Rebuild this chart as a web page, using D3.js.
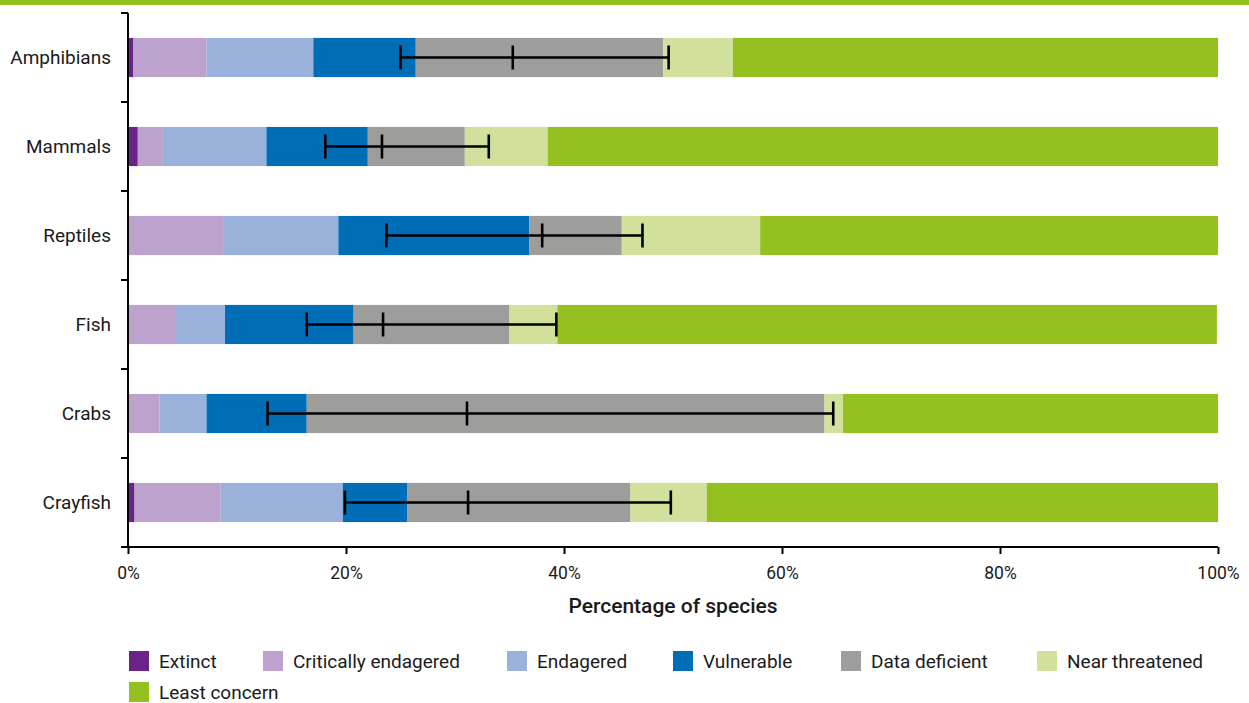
<!DOCTYPE html>
<html><head><meta charset="utf-8">
<script src="https://cdn.jsdelivr.net/npm/d3@7"></script>
<style>body{margin:0;background:#fff;font-family:Roboto,"Noto Sans",sans-serif;}</style>
</head><body><svg id="chart" width="1249" height="703"></svg>
<script>
const categories = ["Amphibians","Mammals","Reptiles","Fish","Crabs","Crayfish"];
const seriesNames = ["Extinct","Critically endagered","Endagered","Vulnerable","Data deficient","Near threatened","Least concern"];
const extinct      = [0.5, 0.9, 0.0, 0.0, 0.0, 0.6];
const critically   = [6.7, 2.3, 8.8, 4.4, 2.9, 7.9];
const endangered   = [9.8, 9.5, 10.5, 4.5, 4.3, 11.2];
const vulnerable   = [9.4, 9.3, 17.5, 11.8, 9.2, 5.9];
const dataDeficient= [22.7, 8.9, 8.5, 14.3, 47.5, 20.5];
const nearThreat   = [6.4, 7.6, 12.7, 4.4, 1.7, 7.0];
const leastConcern = [44.5, 61.5, 42.0, 60.5, 34.4, 46.9];
const errLow  = [25.0, 18.1, 23.7, 16.4, 12.8, 19.9];
const errMid  = [35.3, 23.3, 38.0, 23.4, 31.1, 31.2];
const errHigh = [49.6, 33.1, 47.2, 39.3, 64.7, 49.8];
const xTicks = [0,20,40,60,80,100];
const colors = ["#6a2388","#bca2cc","#9ab1dc","#006eb6","#9d9d9c","#d1e09b","#94c11f"];

const series = [extinct,critically,endangered,vulnerable,dataDeficient,nearThreat,leastConcern];
const rows = categories.map((c,i)=>{const o={cat:c}; seriesNames.forEach((s,j)=>o[s]=series[j][i]); return o;});
const stacked = d3.stack().keys(seriesNames)(rows);

const svg = d3.select("#chart");
svg.append("rect").attr("x",0).attr("y",0).attr("width",1249).attr("height",5).attr("fill","#94c11f");

const m = {left:128, right:1218, top:13, bottom:547};
const x = d3.scaleLinear().domain([0,100]).range([m.left,m.right]);
const y = d3.scaleBand().domain(categories).range([m.top,m.bottom]).paddingInner(0.56).paddingOuter(0.28);

const g = svg.append("g");
stacked.forEach((s,j)=>{
  g.selectAll(null).data(s).enter().append("rect")
   .attr("x",d=>x(d[0])).attr("width",d=>Math.max(0,x(d[1])-x(d[0])))
   .attr("y",d=>y(d.data.cat)).attr("height",y.bandwidth())
   .attr("fill",colors[j]);
});

// error bars
const eb = svg.append("g").attr("stroke","#000").attr("stroke-width",2.6);
categories.forEach((c,i)=>{
  const cy = y(c)+y.bandwidth()/2;
  eb.append("line").attr("x1",x(errLow[i])).attr("x2",x(errHigh[i])).attr("y1",cy).attr("y2",cy);
  [errLow[i],errMid[i],errHigh[i]].forEach(v=>{
    eb.append("line").attr("x1",x(v)).attr("x2",x(v)).attr("y1",cy-12).attr("y2",cy+12);
  });
});

// y axis with ticks at band boundaries
const yAxisG = svg.append("g");
yAxisG.append("line").attr("x1",m.left).attr("x2",m.left).attr("y1",m.top).attr("y2",m.bottom).attr("stroke","#000").attr("stroke-width",2);
const boundaries = d3.range(categories.length+1).map(k=>m.top + (m.bottom-m.top)*k/categories.length);
yAxisG.selectAll(null).data(boundaries).enter().append("line")
  .attr("x1",m.left-7).attr("x2",m.left).attr("y1",d=>d).attr("y2",d=>d).attr("stroke","#000").attr("stroke-width",2);
yAxisG.selectAll(null).data(categories).enter().append("text")
  .attr("x",m.left-17).attr("y",d=>y(d)+y.bandwidth()/2).attr("dy","0.35em")
  .attr("text-anchor","end").attr("font-size",19).attr("fill","#1a1a1a").text(d=>d);

// x axis
const xAxis = d3.axisBottom(x).tickValues(xTicks).tickFormat(d=>d+"%").tickSize(7).tickSizeOuter(0);
const xg = svg.append("g").attr("transform",`translate(0,${m.bottom})`).call(xAxis);
xg.select(".domain").attr("stroke","#000").attr("stroke-width",2).attr("d",`M${m.left-7},0H${m.right}`);
xg.selectAll(".tick line").attr("stroke","#000").attr("stroke-width",2);
xg.selectAll(".tick text").attr("font-size",17.5).attr("font-family","Roboto").attr("fill","#1a1a1a").attr("dy","1.28em");
svg.append("text").attr("x",(m.left+m.right)/2).attr("y",613).attr("text-anchor","middle")
  .attr("font-size",21).attr("font-weight",500).attr("fill","#1a1a1a").text("Percentage of species");

// legend
const legendPos = [[129,651],[263,651],[507,651],[673,651],[841,651],[1037,651],[129,682]];
const lg = svg.append("g");
seriesNames.forEach((s,j)=>{
  const [lx,ly] = legendPos[j];
  lg.append("rect").attr("x",lx).attr("y",ly).attr("width",20).attr("height",20).attr("fill",colors[j]);
  lg.append("text").attr("x",lx+30).attr("y",ly+10).attr("dy","0.35em").attr("font-size",19).attr("fill","#1a1a1a").text(s);
});
</script></body></html>
